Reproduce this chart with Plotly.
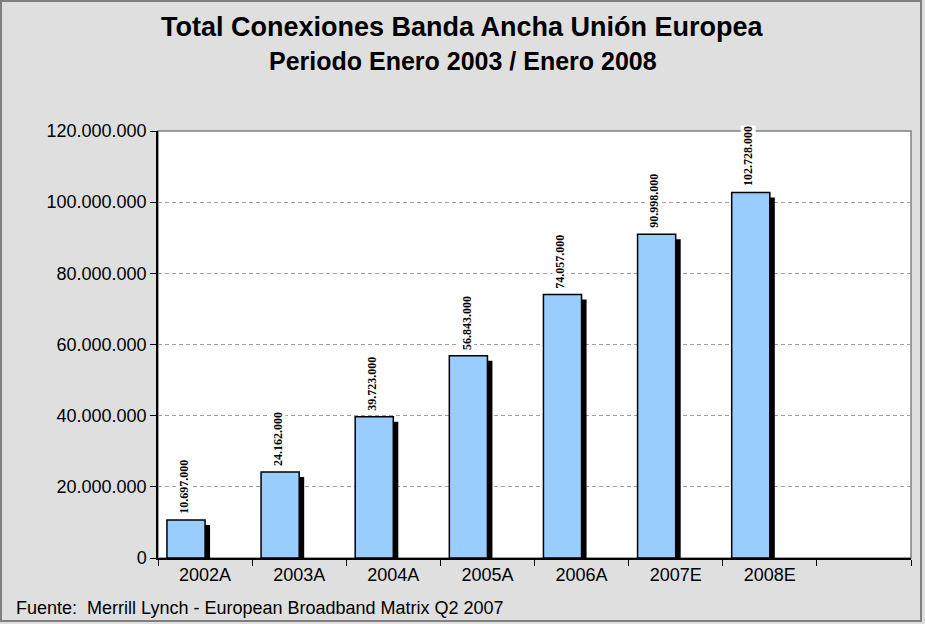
import plotly.graph_objects as go

categories = ["2002A", "2003A", "2004A", "2005A", "2006A", "2007E", "2008E", " "]
values = [10697000, 24162000, 39723000, 56843000, 74057000, 90998000, 102728000, None]
y_ticks = [0, 20000000, 40000000, 60000000, 80000000, 100000000, 120000000]

W, H = 925, 624
ML, MR, MT, MB = 158, 14, 131, 66
PW, PH = W - ML - MR, H - MT - MB
YMAX = 120000000

bar_off, bar_w = -0.405, 0.405
shadow_px = 5
cat_px = PW / len(categories)
sh_dx = shadow_px / cat_px
sh_dy = shadow_px / PH * YMAX

shadow_vals = [v - sh_dy if v is not None else None for v in values]

fig = go.Figure()
fig.add_trace(go.Bar(
    x=categories, y=shadow_vals, offset=bar_off + sh_dx, width=bar_w,
    marker=dict(color="black", line=dict(width=0)), hoverinfo="skip",
))
fig.add_trace(go.Bar(
    x=categories, y=values, offset=bar_off, width=bar_w,
    marker=dict(color="#99CCFF", line=dict(color="black", width=1.5)),
))

for c, v in zip(categories, values):
    if v is None:
        continue
    fig.add_annotation(
        x=c, y=v, xref="x", yref="y", text="<b>" + f"{v:,}".replace(",", ".") + "</b>",
        textangle=-90, showarrow=False, xanchor="center", yanchor="bottom",
        xshift=-0.225 * cat_px, yshift=5,
        font=dict(family="Liberation Serif", size=12, color="black"),
        bgcolor="white", borderpad=0,
    )

fig.add_annotation(
    x=(W / 2 - ML) / PW, y=1 + (MT - 27) / PH, xref="paper", yref="paper",
    xanchor="center", yanchor="middle",
    text="<b>Total Conexiones Banda Ancha Unión Europea</b>", showarrow=False,
    font=dict(family="Liberation Sans", size=27, color="black"),
)
fig.add_annotation(
    x=(W / 2 - ML) / PW, y=1 + (MT - 61) / PH, xref="paper", yref="paper",
    xanchor="center", yanchor="middle",
    text="<b>Periodo Enero 2003 / Enero 2008</b>", showarrow=False,
    font=dict(family="Liberation Sans", size=25, color="black"),
)
fig.add_annotation(
    x=(14 - ML) / PW, y=-(608 - (H - MB)) / PH, xref="paper", yref="paper",
    xanchor="left", yanchor="middle",
    text="Fuente:  Merrill Lynch - European Broadband Matrix Q2 2007", showarrow=False,
    font=dict(family="Liberation Sans", size=18, color="black"),
)

# outer frame
fig.add_shape(type="rect", xref="paper", yref="paper",
              x0=(1 - ML) / PW, x1=(W - 4 - ML) / PW,
              y0=-(H - 3 - (H - MB)) / PH, y1=1 + (MT - 1) / PH,
              line=dict(color="#808080", width=2), layer="below")
# plot area border
fig.add_shape(type="rect", xref="paper", yref="paper", x0=0, x1=1, y0=0, y1=1,
              line=dict(color="#808080", width=1.5), layer="below")

fig.update_layout(
    width=W, height=H, margin=dict(l=ML, r=MR, t=MT, b=MB),
    paper_bgcolor="#DFDFDF", plot_bgcolor="white",
    barmode="overlay", showlegend=False, separators=",.",
    font=dict(family="Liberation Sans", color="black"),
    xaxis=dict(type="category", categoryorder="array", categoryarray=categories,
               range=[-0.5, len(categories) - 0.5], tickson="boundaries",
               ticks="outside", ticklen=6, tickcolor="black",
               showline=True, linecolor="black", linewidth=1.5,
               tickfont=dict(size=18), showgrid=False),
    yaxis=dict(range=[0, YMAX], tickvals=y_ticks, tickformat=",d",
               ticks="outside", ticklen=6, tickcolor="black",
               showline=True, linecolor="black", linewidth=1.5,
               showgrid=True, gridcolor="#A0A0A0", griddash="4px,3px", gridwidth=1,
               tickfont=dict(size=18), zeroline=False),
)

fig.write_html(
    "out.html",
    config={"displayModeBar": False},
    post_script="document.body.style.margin='0';document.body.style.background='#DFDFDF';",
)
